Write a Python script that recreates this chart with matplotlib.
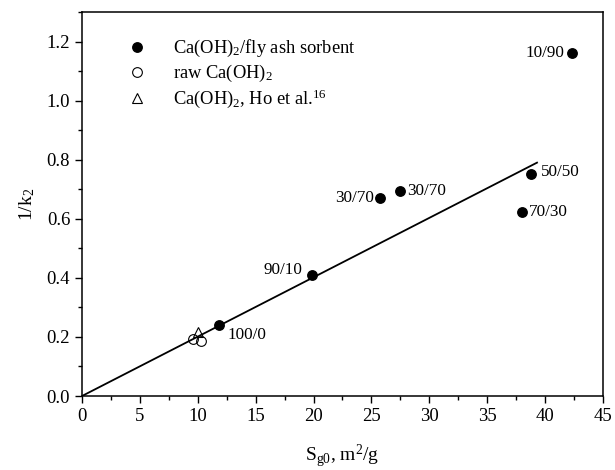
import matplotlib
matplotlib.use('Agg')
import matplotlib.pyplot as plt
from matplotlib.ticker import MultipleLocator

plt.rcParams['font.family'] = ['Liberation Serif', 'DejaVu Serif']
plt.rcParams['mathtext.fontset'] = 'custom'
plt.rcParams['mathtext.rm'] = 'Liberation Serif'
plt.rcParams['mathtext.it'] = 'Liberation Serif:italic'

# Ca(OH)2 / fly ash sorbents (ratio labels)
sorbent_labels = ['10/90', '50/50', '70/30', '30/70', '30/70', '90/10', '100/0']
sorbent_area = [42.3, 38.8, 38.0, 25.7, 27.5, 19.9, 11.85]
sorbent_invk = [1.162, 0.753, 0.622, 0.672, 0.693, 0.411, 0.239]

# raw Ca(OH)2
raw_area = [9.6, 10.3]
raw_invk = [0.194, 0.187]

# Ho et al. value
ho_area = [10.05]
ho_invk = [0.217]

# linear fit through the origin
fit_x = [0.0, 39.3]
fit_y = [0.0, 0.79]

# label offsets in points (dx, dy, ha)
label_offsets = [(-5, 0, 'right'), (7, 1, 'left'), (5, 0, 'left'), (-4, 0, 'right'),
                 (5, 0, 'left'), (-7, 3, 'right'), (6, -7, 'left')]

fig = plt.figure(figsize=(6.15, 4.70), dpi=100)
ax = fig.add_axes([0.1333, 0.1574, 0.8472, 0.8171])

ax.plot(fit_x, fit_y, color='black', linewidth=1.3)
ax.plot(sorbent_area, sorbent_invk, 'o', color='black', markersize=6.8,
        label='Ca(OH)$_2$/fly ash sorbent')
ax.plot(raw_area, raw_invk, 'o', markerfacecolor='none', markeredgecolor='black',
        markeredgewidth=0.8, markersize=7, label='raw Ca(OH)$_2$')
ax.plot(ho_area, ho_invk, '^', markerfacecolor='none', markeredgecolor='black',
        markeredgewidth=0.8, markersize=7.5, label='Ca(OH)$_2$, Ho et al.$^{16}$')

for lab, x, y, (dx, dy, ha) in zip(sorbent_labels, sorbent_area, sorbent_invk, label_offsets):
    ax.annotate(lab, (x, y), xytext=(dx, dy), textcoords='offset points',
                ha=ha, va='center', fontsize=12.3)

ax.set_xlim(0, 45)
ax.set_ylim(0, 1.3)
ax.xaxis.set_major_locator(MultipleLocator(5))
ax.xaxis.set_minor_locator(MultipleLocator(2.5))
ax.yaxis.set_major_locator(MultipleLocator(0.2))
ax.yaxis.set_minor_locator(MultipleLocator(0.1))
ax.yaxis.set_major_formatter(plt.FormatStrFormatter('%.1f'))
ax.tick_params(which='major', direction='out', length=5, width=1, labelsize=13.5)
ax.tick_params(which='minor', direction='out', length=3, width=1)
for s in ax.spines.values():
    s.set_linewidth(1.1)

ax.set_xlabel('S$_{\\mathrm{g0}}$, m$^2$/g', fontsize=14, labelpad=13)
ax.set_ylabel('1/k$_2$', fontsize=14, labelpad=7)

ax.legend(loc='upper left', frameon=False, fontsize=13.3, handletextpad=1.2,
          labelspacing=0.2, bbox_to_anchor=(0.047, 0.975), handlelength=1.5)

plt.savefig('out.png', dpi=100)
